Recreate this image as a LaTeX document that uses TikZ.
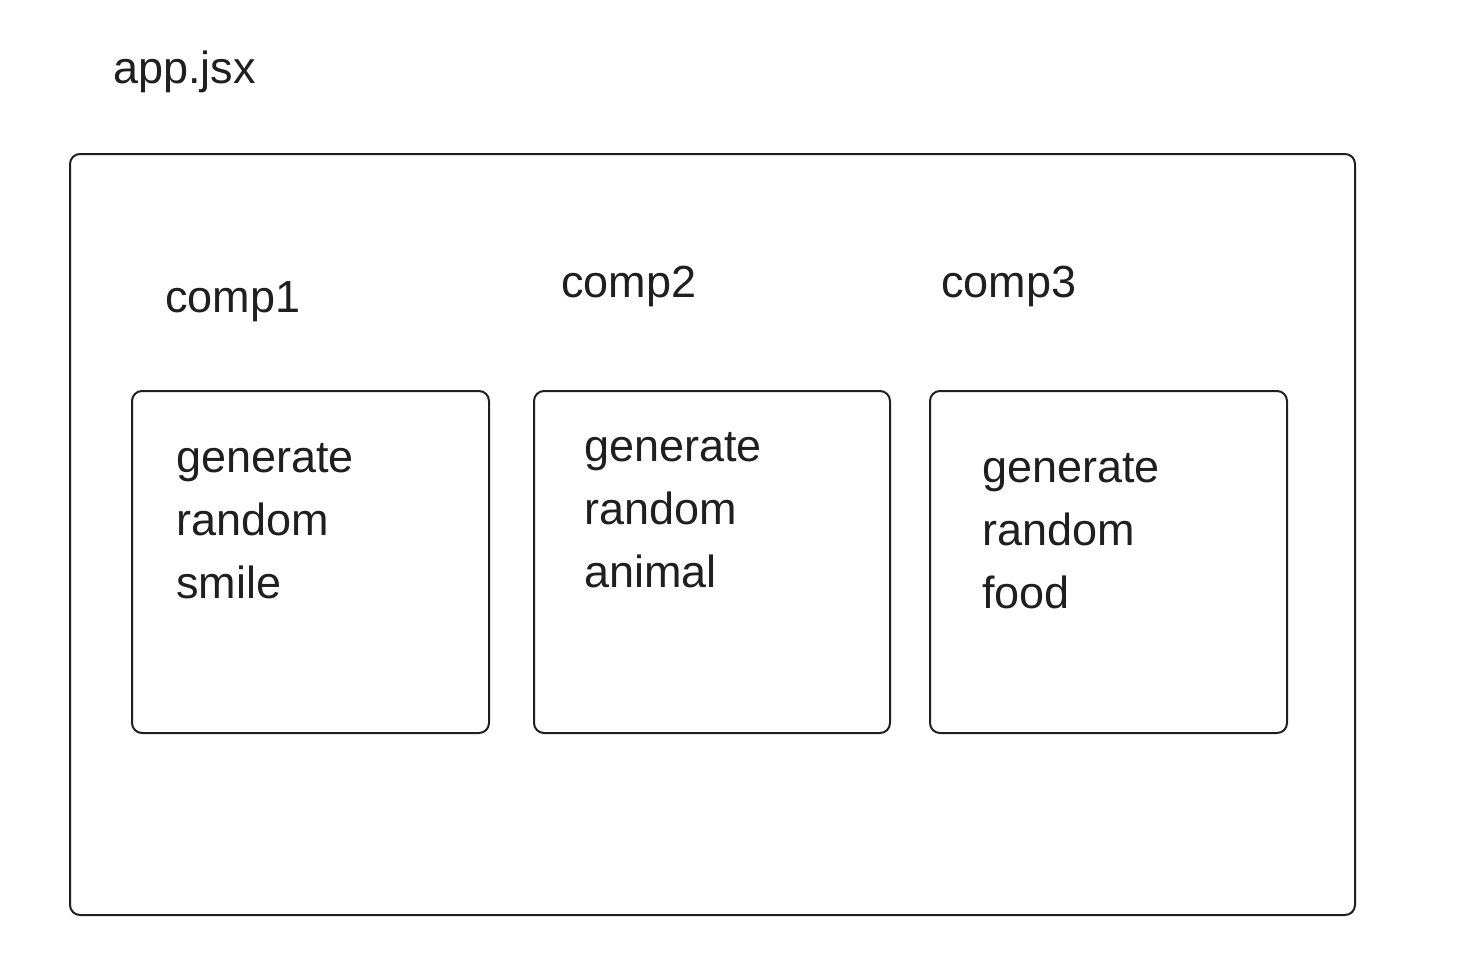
\documentclass[tikz,border=0pt]{standalone}
\usepackage{fontspec}
\setmainfont{Liberation Sans}
\begin{document}
\begin{tikzpicture}[x=0.75pt,y=-0.75pt,
  ink/.style={draw=black!88, line width=1.5pt, rounded corners=7.5pt},
  lbl/.style={anchor=base west, inner sep=0pt, font=\fontsize{33.75}{47}\selectfont, text=black!88},
  body/.style={lbl, align=left}]
\useasboundingbox (0,0) rectangle (1468,978);
\draw[ink] (70,154) rectangle (1355,915);
\node[ink, minimum width=357*0.75pt, minimum height=342*0.75pt, anchor=north west, inner sep=0pt] (b1) at (131,390) {};
\node[ink, minimum width=356*0.75pt, minimum height=342*0.75pt, anchor=north west, inner sep=0pt] (b2) at (533,390) {};
\node[ink, minimum width=357*0.75pt, minimum height=342*0.75pt, anchor=north west, inner sep=0pt] (b3) at (929,390) {};
\node[lbl] (app) at (113,83) {app.jsx};
\node[lbl] (c1) at (165,312) {comp1};
\node[lbl] (c2) at (561,297) {comp2};
\node[lbl] (c3) at (941,297) {comp3};
\node[body] (t1) at (176,598) {generate\\random\\smile};
\node[body] (t2) at (584,587) {generate\\random\\animal};
\node[body] (t3) at (982,608) {generate\\random\\food};
\end{tikzpicture}
\end{document}
